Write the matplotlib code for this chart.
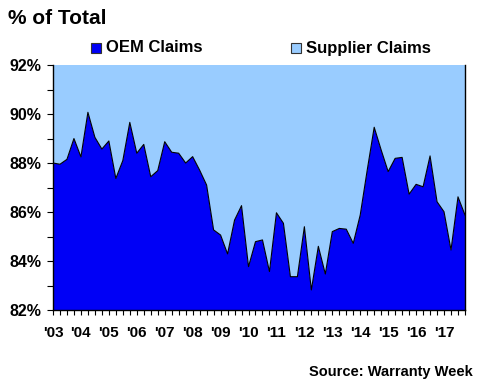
import numpy as np
import matplotlib.pyplot as plt
from matplotlib.patches import Rectangle

plt.rcParams['font.family'] = ['Liberation Sans', 'DejaVu Sans']
plt.rcParams['font.weight'] = 'bold'

# quarterly OEM share of warranty claims, 2003 Q1 .. 2017 Q4 (%)
years = ["'03", "'04", "'05", "'06", "'07", "'08", "'09", "'10",
         "'11", "'12", "'13", "'14", "'15", "'16", "'17"]
oem_share = [88.0, 87.95, 88.15, 89.0, 88.25, 90.07, 89.05, 88.57,
             88.9, 87.37, 88.1, 89.66, 88.4, 88.76, 87.44, 87.69,
             88.87, 88.44, 88.4, 88.0, 88.26, 87.71, 87.1, 85.27,
             85.06, 84.29, 85.67, 86.26, 83.77, 84.79, 84.86, 83.57,
             85.97, 85.54, 83.36, 83.36, 85.4, 82.82, 84.6, 83.47,
             85.2, 85.33, 85.3, 84.72, 85.88, 87.71, 89.46, 88.53,
             87.65, 88.19, 88.23, 86.73, 87.13, 87.03, 88.29, 86.42,
             86.01, 84.45, 86.62, 85.88]
supplier_share = [100 - v for v in oem_share]

oem_color = '#0000F6'
sup_color = '#99CCFF'

x = np.arange(len(oem_share))

fig = plt.figure(figsize=(4.8, 3.9), dpi=100)
ax = fig.add_axes([0.1104, 0.2051, 0.8583, 0.6282])

ax.stackplot(x, oem_share, supplier_share, colors=[oem_color, sup_color])
ax.plot(x, oem_share, color='black', linewidth=0.8)

ax.set_xlim(0, len(x) - 1)
ax.set_ylim(82, 92)

# y axis
ax.set_yticks(np.arange(82, 93, 2))
ax.set_yticklabels(['%d%%' % v for v in range(82, 93, 2)], fontsize=11.5, fontweight='bold')
ax.set_yticks(np.arange(83, 92, 2), minor=True)

# x axis: label each year, tick every quarter
ax.set_xticks(x[::4])
ax.set_xticklabels(years, fontsize=11, fontweight='bold')
ax.set_xticks(x, minor=True)

ax.tick_params(axis='both', which='both', direction='out', width=0.8, color='black')
ax.tick_params(axis='x', which='both', length=3.6, pad=8)
ax.tick_params(axis='y', which='both', length=4.3, pad=4)

ax.spines['top'].set_visible(False)
for s in ['left', 'bottom', 'right']:
    ax.spines[s].set_linewidth(1.0)
    ax.spines[s].set_color('black')

# title and legend
fig.text(8 / 480, 1 - 18 / 390, '% of Total', fontsize=15, fontweight='bold', va='center', ha='left')

for (x0, label, c) in [(91, 'OEM Claims', oem_color), (291, 'Supplier Claims', sup_color)]:
    fig.patches.append(Rectangle((x0 / 480, 1 - 53 / 390), 10 / 480, 10 / 390,
                                 transform=fig.transFigure, facecolor=c,
                                 edgecolor='#333333', linewidth=0.8))
    fig.text((x0 + 15) / 480, 1 - 48 / 390, label, fontsize=12, fontweight='bold',
             va='center', ha='left')

fig.text(473 / 480, 1 - 372 / 390, 'Source: Warranty Week', fontsize=10.5,
         fontweight='bold', ha='right', va='center')

fig.savefig('out.png', dpi=100)
